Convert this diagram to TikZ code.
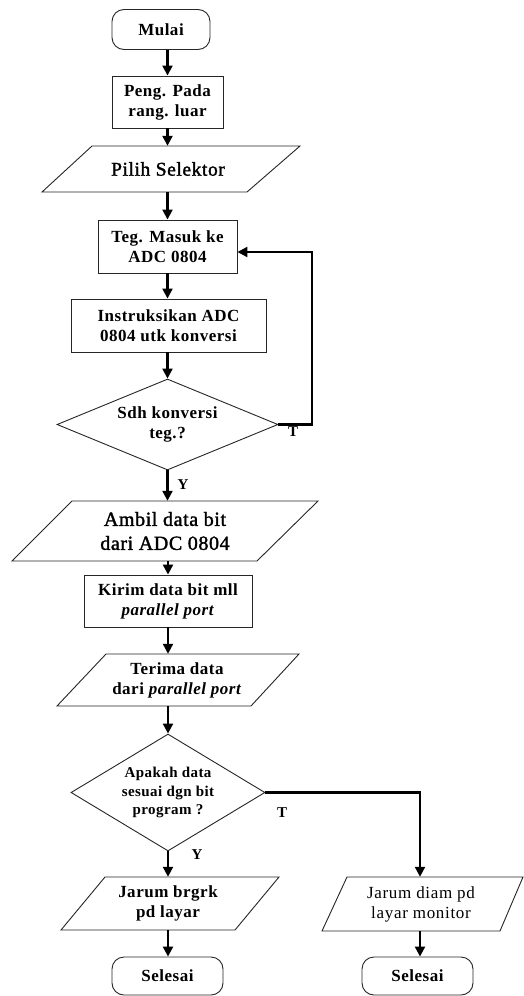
\documentclass[tikz,border=0pt]{standalone}
\usepackage{fontspec}
\setmainfont{Liberation Serif}[LetterSpace=3]
\newfontfamily\heavyfont{Liberation Serif}[FakeBold=1.6,LetterSpace=3]
\newfontfamily\thinfont{Liberation Serif}[LetterSpace=4]
\usetikzlibrary{arrows.meta,shapes.geometric,calc}
\tikzset{
  outline/.style={draw=black!85, line width=0.9pt},
  bfont/.style={font=\bfseries\fontsize{17}{20}\selectfont},
  term/.style={outline, rectangle, rounded corners=12pt, minimum width=98pt, minimum height=40pt, inner sep=0pt, bfont},
  proc/.style={outline, rectangle, inner sep=0pt, align=center, bfont},
  io/.style={inner sep=0pt, align=center},
  dec/.style={outline, diamond, inner sep=0pt, align=center},
  conn/.style={line width=2.2pt, -{Triangle[length=10pt,width=10pt]}},
  lbl/.style={font=\bfseries\fontsize{15}{18}\selectfont, inner sep=0pt},
}
\begin{document}
\begin{tikzpicture}[x=1pt,y=-1pt]
\fill[white] (0,0) rectangle (524,996);
\useasboundingbox (0,0) rectangle (524,996);

% nodes
\node[term] (mulai) at (161,29.5) {Mulai};
\node[proc, minimum width=111pt, minimum height=52pt] (peng) at (167.5,102) {Peng. Pada\\rang. luar};
\draw[outline] (92,146) -- (300,146) -- (247,192) -- (42,192) -- cycle;
\node[io, minimum height=46pt, font=\heavyfont\fontsize{19.5}{22}\selectfont] (pilih) at (168,169) {Pilih Selektor};
\node[proc, minimum width=139pt, minimum height=53pt] (teg) at (167.5,246.5) {Teg. Masuk ke\\ADC 0804};
\node[proc, minimum width=195pt, minimum height=53pt] (instr) at (168.5,325.5) {Instruksikan ADC\\0804 utk konversi};
\node[dec, minimum width=221pt, minimum height=91pt, aspect=2.4, bfont] (sdh) at (167.5,424.5) {Sdh konversi\\teg.?};
\draw[outline] (72,501) -- (318,501) -- (257,561) -- (12,561) -- cycle;
\node[io, minimum height=60pt, font=\heavyfont\fontsize{20}{24}\selectfont] (ambil) at (165,531) {Ambil data bit\\dari ADC 0804};
\node[proc, minimum width=168pt, minimum height=52pt] (kirim) at (168,601) {Kirim data bit mll\\\textit{parallel port}};
\draw[outline] (106,654) -- (299,654) -- (251,706) -- (57,706) -- cycle;
\node[io, minimum height=52pt, bfont] (terima) at (177,680) {Terima data\\dari \textit{parallel port}};
\node[dec, minimum width=194pt, minimum height=117pt, aspect=1.66, font=\bfseries\fontsize{15}{18.5}\selectfont] (apakah) at (168,792.5) {Apakah data\\sesuai dgn bit\\program ?};
\draw[outline] (105,877) -- (279,877) -- (235,930) -- (61,930) -- cycle;
\node[io, minimum height=53pt, bfont] (jb) at (168,903.5) {Jarum brgrk\\pd layar};
\node[term, minimum width=111pt, minimum height=38pt] (sel1) at (167.5,976) {Selesai};
\draw[outline] (347,877) -- (523,877) -- (500,931) -- (322,931) -- cycle;
\node[io, minimum height=54pt, font=\thinfont\fontsize{17}{20}\selectfont] (jd) at (421,904) {Jarum diam pd\\layar monitor};
\node[term, minimum width=111pt, minimum height=38pt] (sel2) at (417.5,976) {Selesai};

% connectors
\coordinate (loopc) at (312,252);
\coordinate (brc) at (420,792.5);
\draw[conn] (mulai.south -| peng.north) -- (peng.north);
\draw[conn] (peng.south) -- (peng.south |- pilih.north);
\draw[conn] (pilih.south -| teg.north) -- (teg.north);
\draw[conn] (teg.south) -- (teg.south |- instr.north);
\draw[conn] (instr.south -| sdh.north) -- (sdh.north);
\draw[conn] (sdh.east) -- (sdh.east -| loopc) -- (loopc) -- (loopc -| teg.east);
\draw[conn] (sdh.south) -- (sdh.south |- ambil.north);
\draw[conn] (ambil.south -| kirim.north) -- (kirim.north);
\draw[conn] (kirim.south) -- (kirim.south |- terima.north);
\draw[conn] (terima.south -| apakah.north) -- (apakah.north);
\draw[conn] (apakah.east) -- (brc) -- (brc |- jd.north);
\draw[conn] (apakah.south) -- (apakah.south |- jb.north);
\draw[conn] (jb.south) -- (jb.south |- sel1.north);
\draw[conn] (brc |- jd.south) -- (brc |- sel2.north);

% labels
\node[lbl] (t1) at (293,432) {T};
\node[lbl] (y1) at (183,485) {Y};
\node[lbl] (t2) at (282,813) {T};
\node[lbl] (y2) at (197,855) {Y};
\end{tikzpicture}
\end{document}
